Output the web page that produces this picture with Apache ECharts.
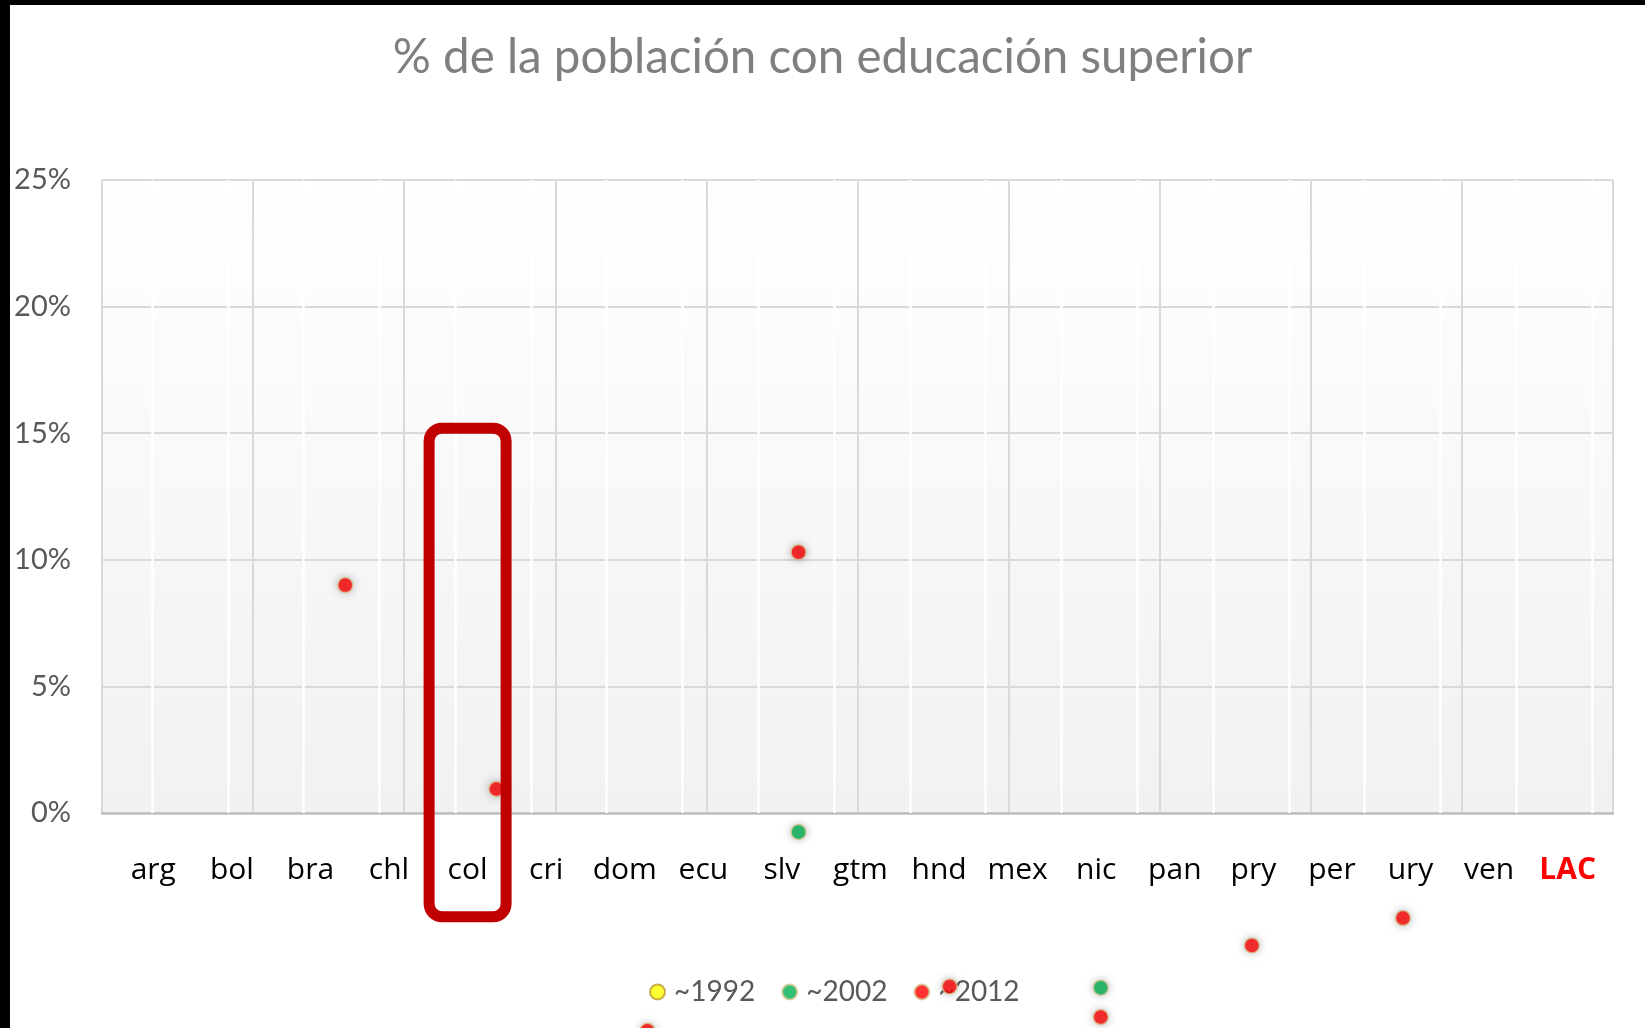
<!DOCTYPE html>
<html>
<head>
<meta charset="utf-8">
<script src="https://cdn.jsdelivr.net/npm/echarts@6/dist/echarts.min.js"></script>
<style>
  html, body { margin: 0; padding: 0; background: #fff; }
  #container { width: 1645px; height: 1028px; }
</style>
</head>
<body>
<div id="container"></div>
<script>
var dom = document.getElementById("container");
var myChart = echarts.init(dom);

// country labels under the plot
var categories = ['arg', 'bol', 'bra', 'chl', 'col', 'cri', 'dom', 'ecu', 'slv', 'gtm',
  'hnd', 'mex', 'nic', 'pan', 'pry', 'per', 'ury', 'ven', 'LAC'];
var years = ['~1992', '~2002', '~2012'];

// dots as they sit in the picture: x on the 0..10 grid, y in %
var dotX = [1.61, 2.61, 3.61, 4.61, 5.61, 6.61, 7.61, 8.61];
var v1992 = [null, null, null, null, null, null, null, null];
var v2002 = [null, null, null, -0.75, null, -6.9, null, null];
var v2012 = [9.0, 0.95, -8.6, 10.3, -6.85, -8.06, -5.23, -4.15];

var yMax = 25, yStep = 5;
var colors = ['#ffff00', '#00b050', '#ff0000'];

function pairs(vals) {
  var out = [];
  vals.forEach(function (v, i) {
    if (v !== null) out.push([dotX[i], v]);
  });
  return out;
}

var gridTop = 180, gridH = 633;

option = {
  color: colors,
  animation: false,
  title: {
    text: '% de la población con educación superior',
    left: 'center',
    top: 34,
    padding: 0,
    textStyle: {
      fontFamily: 'Lato',
      fontWeight: 'normal',
      fontSize: 47.5,
      color: '#7f7f7f'
    }
  },
  legend: {
    data: years,
    bottom: 22,
    left: 649,
    padding: 0,
    z: 1,
    itemWidth: 15,
    itemHeight: 15,
    itemGap: 26,
    icon: 'circle',
    textStyle: { fontFamily: 'Lato', fontSize: 28, color: '#595959', padding: [0, 0, 0, 4] }
  },
  grid: [
    {
      left: 102, top: gridTop, width: 1511, height: gridH,
      show: true, borderWidth: 0,
      backgroundColor: new echarts.graphic.LinearGradient(0, 0, 0, 1, [
        { offset: 0, color: '#ffffff' },
        { offset: 1, color: '#f1f1f1' }
      ])
    },
    { left: 114, top: gridTop, width: 1493, height: gridH },
    { left: 152, top: gridTop, width: 1440, height: gridH }
  ],
  xAxis: [
    {
      type: 'value', gridIndex: 0, min: 0, max: 10, interval: 1,
      axisLine: { show: true, lineStyle: { color: '#bfbfbf', width: 2.5 } },
      axisTick: { show: false },
      axisLabel: { show: false },
      splitLine: { show: true, lineStyle: { color: '#d9d9d9', width: 2 } }
    },
    {
      type: 'category', gridIndex: 1,
      data: categories.map(function (c) {
        return c === 'LAC'
          ? { value: c, textStyle: { color: '#ff0000', fontWeight: 'bold' } }
          : c;
      }),
      axisLine: { show: false },
      axisTick: { show: false },
      splitLine: { show: false },
      axisLabel: {
        interval: 0, margin: 42,
        fontFamily: 'Open Sans', fontSize: 30, color: '#000000'
      }
    },
    {
      type: 'value', gridIndex: 2, min: 0, max: 19, interval: 1, z: 1,
      axisLine: { show: false },
      axisTick: { show: false },
      axisLabel: { show: false },
      splitLine: { show: true, lineStyle: { color: '#ffffff', width: 2.5 } }
    }
  ],
  yAxis: [
    {
      type: 'value', gridIndex: 0, min: 0, max: yMax, interval: yStep,
      axisLine: { show: false },
      axisTick: { show: false },
      axisLabel: {
        formatter: '{value}%', margin: 31,
        fontFamily: 'Lato', fontSize: 29, color: '#595959'
      },
      splitLine: { show: true, lineStyle: { color: '#d9d9d9', width: 2 } }
    },
    { type: 'value', gridIndex: 1, show: false, min: 0, max: yMax, splitLine: { show: false } },
    { type: 'value', gridIndex: 2, show: false, min: 0, max: yMax, splitLine: { show: false } }
  ],
  series: [v1992, v2002, v2012].map(function (vals, i) {
    return {
      name: years[i],
      type: 'scatter',
      xAxisIndex: 0,
      yAxisIndex: 0,
      clip: false,
      z: 5,
      symbolSize: 15,
      itemStyle: {
        color: colors[i],
        borderColor: i === 0 ? '#b89a2e' : '#d6c595',
        borderWidth: 1.5,
        shadowBlur: 8,
        shadowColor: 'rgba(0,0,0,0.28)'
      },
      data: pairs(vals)
    };
  }),
  graphic: [
    { type: 'rect', left: 0, top: 0, z: 100, shape: { width: 10, height: 1028 }, style: { fill: '#000' } },
    { type: 'rect', left: 0, top: 0, z: 100, shape: { width: 1645, height: 5 }, style: { fill: '#000' } }
  ]
};

myChart.setOption(option, true);

// red frame round the "col" column
var cx = myChart.convertToPixel({ xAxisIndex: 1 }, categories.indexOf('col'));
var yTop = myChart.convertToPixel({ yAxisIndex: 0 }, 15.2);
var yBot = myChart.convertToPixel({ yAxisIndex: 0 }, -4.1);
var frameW = 77;
myChart.setOption({
  graphic: [
    { type: 'rect', left: 0, top: 0, z: 100, shape: { width: 10, height: 1028 }, style: { fill: '#000' } },
    { type: 'rect', left: 0, top: 0, z: 100, shape: { width: 1645, height: 5 }, style: { fill: '#000' } },
    {
      type: 'rect', z: 50,
      shape: { x: cx - frameW / 2, y: yTop, width: frameW, height: yBot - yTop, r: 13 },
      style: { fill: 'none', stroke: '#c00000', lineWidth: 11 }
    }
  ]
});
</script>
</body>
</html>
